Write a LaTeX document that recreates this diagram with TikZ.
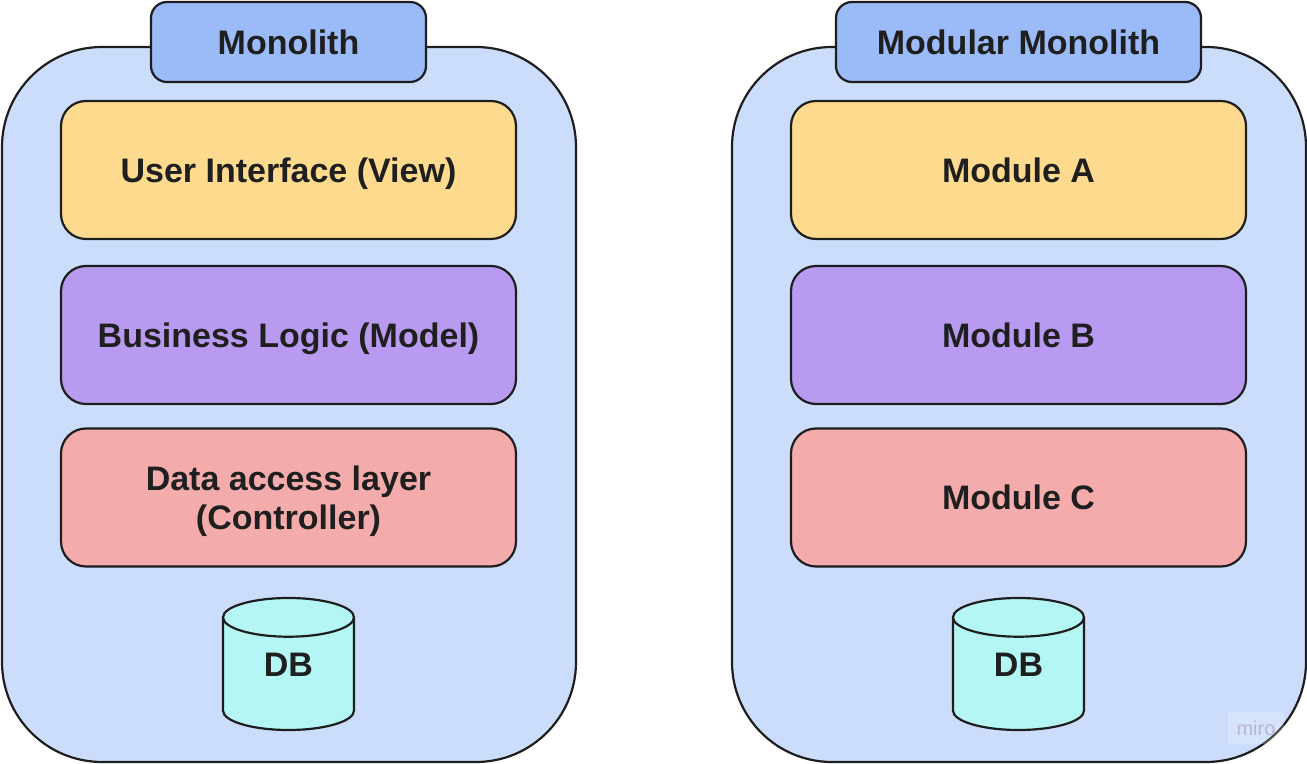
\documentclass[tikz,border=0pt]{standalone}
\usepackage{fontspec}
\setmainfont{Liberation Sans}
\usetikzlibrary{shapes.geometric}
\definecolor{outerblue}{HTML}{CCDDFC}
\definecolor{titleblue}{HTML}{9ABBF8}
\definecolor{uiyellow}{HTML}{FDDA8E}
\definecolor{logicpurple}{HTML}{B89BF1}
\definecolor{datapink}{HTML}{F4ABAB}
\definecolor{dbcyan}{HTML}{B3F6F3}
\definecolor{linegray}{HTML}{1E1E1E}
\definecolor{textgray}{HTML}{1F1F1F}
\definecolor{miroink}{HTML}{B9B6D3}
\begin{document}
\begin{tikzpicture}[x=0.5pt,y=-0.5pt,
	label font/.style={font=\bfseries\fontsize{17}{19.5}\selectfont, text=textgray},
	container/.style={draw=linegray, line width=1.1pt, fill=outerblue, rounded corners=50pt, minimum width=287pt, minimum height=357.5pt},
	title/.style={label font, draw=linegray, line width=1.1pt, fill=titleblue, rounded corners=8pt, minimum height=40pt},
	layer/.style={label font, draw=linegray, line width=1.1pt, rounded corners=12.5pt, minimum width=227.5pt, minimum height=69pt, align=center, text height=12.4pt, text depth=0pt},
	db/.style={label font, cylinder, shape border rotate=90, draw=linegray, line width=1.1pt, aspect=0.62, minimum width=65.5pt, minimum height=66pt, text depth=14pt, anchor=shape center, cylinder uses custom fill, cylinder body fill=dbcyan, cylinder end fill=dbcyan}]
	\useasboundingbox (0,0) rectangle (1307,764);

	\node[container](mono) at (289,404.5) {};
	\node[title, minimum width=137.5pt](monotitle) at (288.5,42) {Monolith};
	\node[layer, fill=uiyellow](ui) at (288.5,170) {User Interface (View)};
	\node[layer, fill=logicpurple](logic) at (288.5,335) {Business Logic (Model)};
	\node[layer, fill=datapink, text height=31.9pt](data) at (288.5,497.5) {Data access layer\\(Controller)};
	\node[db](db1) at (288.5,664) {DB};

	\node[container](modmono) at (1019,404.5) {};
	\node[title, minimum width=182.5pt](modtitle) at (1018.5,42) {Modular Monolith};
	\node[layer, fill=uiyellow](moda) at (1018.5,170) {Module A};
	\node[layer, fill=logicpurple](modb) at (1018.5,335) {Module B};
	\node[layer, fill=datapink](modc) at (1018.5,497.5) {Module C};
	\node[db](db2) at (1018.5,664) {DB};

	\node[fill=white, fill opacity=0.2, text opacity=1, text=miroink, font=\fontsize{10}{12}\selectfont, minimum width=28pt, minimum height=16pt](miro) at (1256,728) {miro};
\end{tikzpicture}
\end{document}
